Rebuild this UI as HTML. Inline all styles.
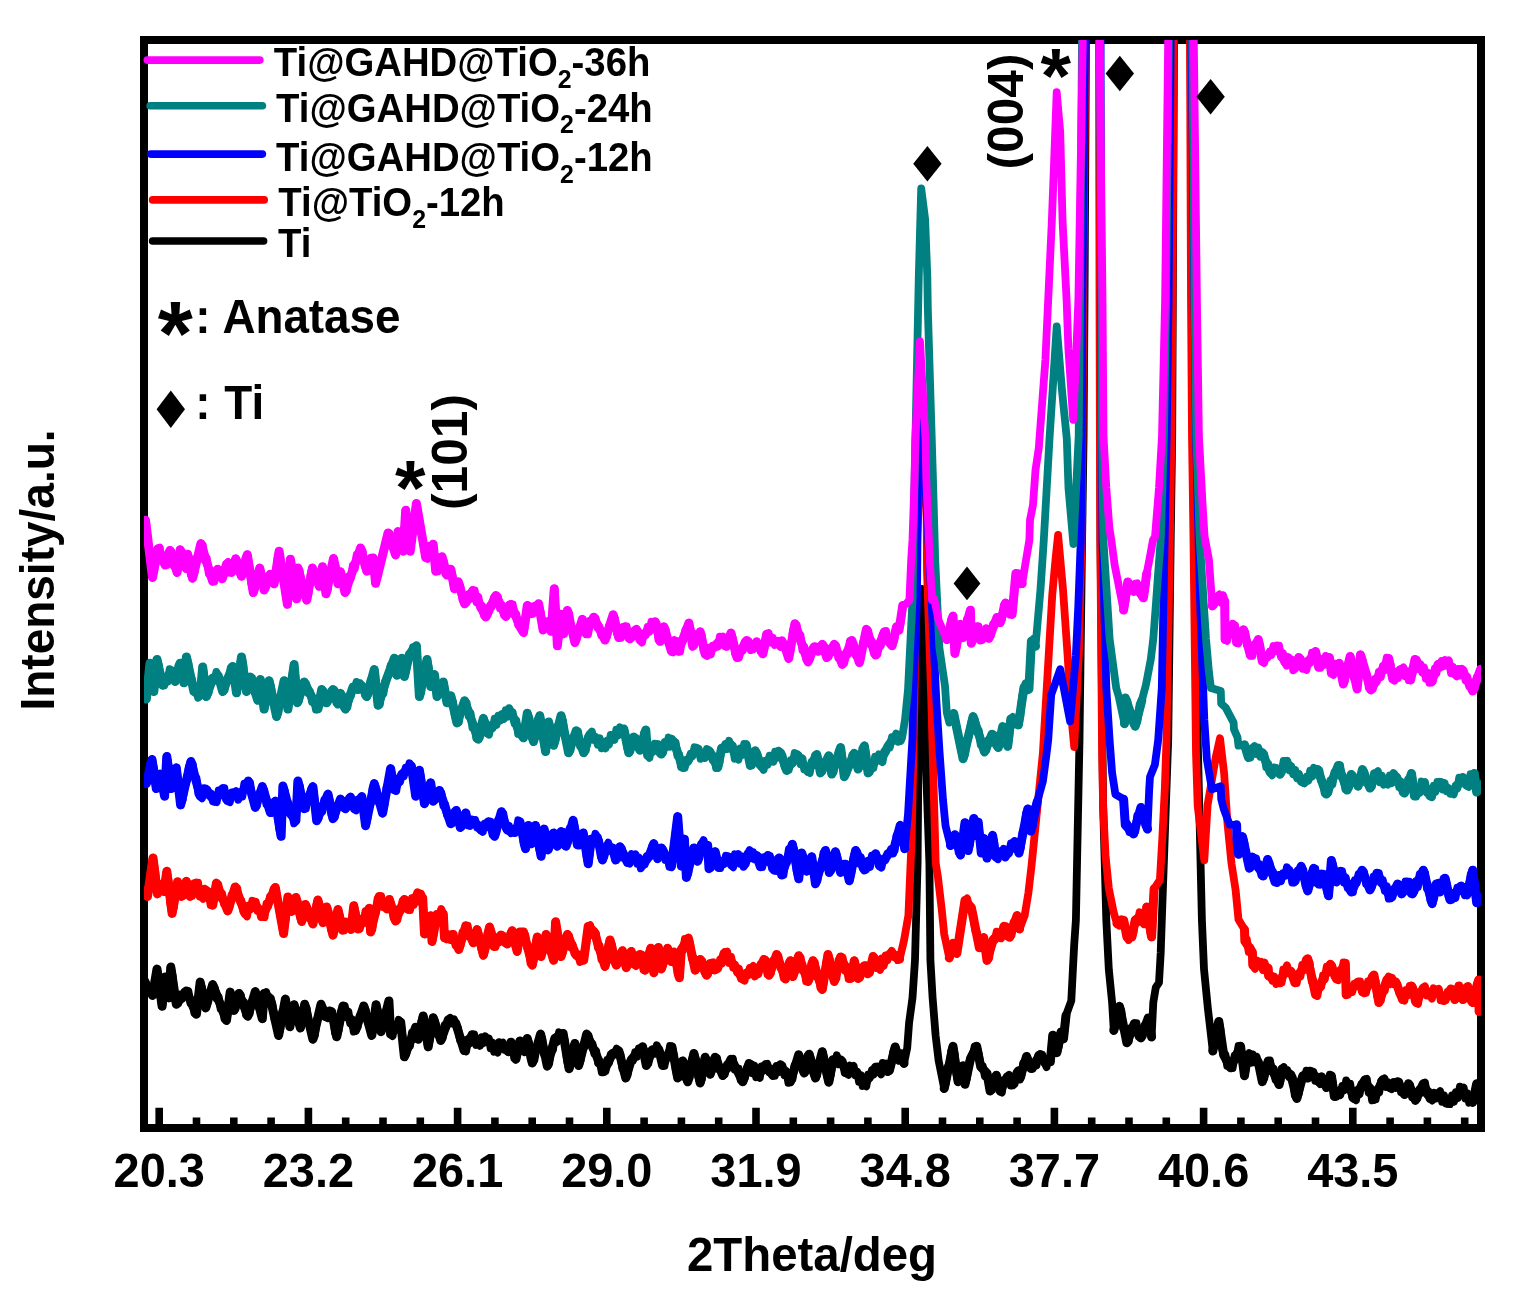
<!DOCTYPE html>
<html lang="en"><head><meta charset="utf-8"><title>XRD patterns</title>
<style>
html,body{margin:0;padding:0;background:#fff;}
body{width:1518px;height:1297px;overflow:hidden;}
svg{display:block;}
text{font-family:"Liberation Sans", "DejaVu Sans", sans-serif;font-weight:bold;fill:#000;}
.tick{font-size:46px;text-anchor:middle;}
.leg{font-size:38.5px;}
.crv{fill:none;stroke-width:7.8;stroke-linejoin:round;stroke-linecap:round;}
</style></head><body>
<svg width="1518" height="1297" viewBox="0 0 1518 1297">
<defs><clipPath id="plot"><rect x="144" y="40" width="1337" height="1088"/></clipPath></defs>
<rect x="0" y="0" width="1518" height="1297" fill="#fff"/>
<rect x="144" y="40" width="1337" height="1088" fill="none" stroke="#000" stroke-width="8"/>
<path d="M159.2 1125 V1107.7 M196.5 1125 V1117.6 M233.8 1125 V1117.6 M271.1 1125 V1117.6 M308.4 1125 V1107.7 M345.7 1125 V1117.6 M383.0 1125 V1117.6 M420.3 1125 V1117.6 M457.6 1125 V1107.7 M494.9 1125 V1117.6 M532.2 1125 V1117.6 M569.5 1125 V1117.6 M606.8 1125 V1107.7 M644.1 1125 V1117.6 M681.4 1125 V1117.6 M718.7 1125 V1117.6 M756.0 1125 V1107.7 M793.3 1125 V1117.6 M830.6 1125 V1117.6 M867.9 1125 V1117.6 M905.2 1125 V1107.7 M942.5 1125 V1117.6 M979.8 1125 V1117.6 M1017.1 1125 V1117.6 M1054.4 1125 V1107.7 M1091.7 1125 V1117.6 M1129.0 1125 V1117.6 M1166.3 1125 V1117.6 M1203.6 1125 V1107.7 M1240.9 1125 V1117.6 M1278.2 1125 V1117.6 M1315.5 1125 V1117.6 M1352.8 1125 V1107.7 M1390.1 1125 V1117.6 M1427.4 1125 V1117.6 M1464.7 1125 V1117.6" stroke="#000" stroke-width="7.6" fill="none"/>
<text transform="translate(159.2 1187.4) scale(1.02 1.04)" font-size="46" text-anchor="middle">20.3</text>
<text transform="translate(308.4 1187.4) scale(1.02 1.04)" font-size="46" text-anchor="middle">23.2</text>
<text transform="translate(457.6 1187.4) scale(1.02 1.04)" font-size="46" text-anchor="middle">26.1</text>
<text transform="translate(606.8 1187.4) scale(1.02 1.04)" font-size="46" text-anchor="middle">29.0</text>
<text transform="translate(756 1187.4) scale(1.02 1.04)" font-size="46" text-anchor="middle">31.9</text>
<text transform="translate(905.2 1187.4) scale(1.02 1.04)" font-size="46" text-anchor="middle">34.8</text>
<text transform="translate(1054.4 1187.4) scale(1.02 1.04)" font-size="46" text-anchor="middle">37.7</text>
<text transform="translate(1203.6 1187.4) scale(1.02 1.04)" font-size="46" text-anchor="middle">40.6</text>
<text transform="translate(1352.8 1187.4) scale(1.02 1.04)" font-size="46" text-anchor="middle">43.5</text>
<text transform="translate(812 1270.7) scale(1.008 1.03)" font-size="47" text-anchor="middle">2Theta/deg</text>
<text transform="translate(54.3 570) rotate(-90) scale(1 1.04)" font-size="46" text-anchor="middle">Intensity/a.u.</text>
<g clip-path="url(#plot)">
<path class="crv" stroke="#000000" style="stroke-width:9" d="M152.5 995.4 L157 969.1 L162.1 1006.2 L165.1 977.1 L168.8 997.9 L170.8 967.1 L176.3 1004.2 L186.4 990.9 L196.4 1014.2 L200.2 982.1 L205.7 1007.9 L212.7 984.6 L226.5 1020.5 L230.2 992.1 L234 1010.4 L239 993.4 L247.8 1016.2 L255.3 991.6 L262.3 1018.7 L264.1 993.4 L270.3 998.4 L278.6 1035.5 L285.4 999.1 L289.9 1026.7 L294.1 1004.7 L300.4 1028 L304.7 1004.2 L312.9 1039.3 L321 1004.2 L325.5 1016.7 L331.7 1011.7 L336.7 1036.8 L343 1005.9 L355.5 1030.5 L363.8 1005.9 L371.8 1035.5 L376.1 1004.7 L381.1 1031.7 L388.9 1000.9 L390.6 1034.2 L400.7 1022.2 L404.4 1056.8 L415.7 1027.2 L418.2 1039.3 L423.2 1015.9 L428.2 1046.8 L433.2 1017.7 L440.8 1040.5 L448.3 1019.7 L455.8 1023.4 L464.1 1050.5 L472.1 1034.7 L478.3 1043 L487.1 1039.2 L495.9 1050.5 L500.9 1043.5 L508.4 1051.8 L510.9 1042.2 L515.9 1059.3 L519.9 1041 L524.8 1051.7 L527.3 1038.4 L532.3 1063 L540.6 1034.1 L547.3 1066.2 L554.8 1038.4 L563.1 1033.4 L569.1 1068.7 L574.9 1043.4 L578.7 1065.5 L586.7 1034.1 L603.7 1071.7 L612.5 1053.4 L618.8 1050.9 L625.8 1078 L631.3 1059.7 L642.6 1046.7 L646.3 1065.5 L652.6 1049.7 L658.9 1049.7 L662.6 1065.5 L671.9 1046.7 L677.7 1078 L682.7 1060.9 L687.7 1081.8 L693.9 1053.4 L700.2 1083 L705.2 1057.2 L710.2 1074.2 L715.2 1057.2 L722.8 1075.5 L731 1059.2 L736.6 1069.2 L742.8 1081.8 L749.1 1063.4 L757.9 1075.5 L765.4 1064.7 L772.9 1075.5 L780.4 1064.7 L790.4 1081.8 L798.7 1054.7 L804.2 1073 L809.2 1054.2 L815.5 1078 L822.3 1051.7 L828.8 1082.3 L833 1059.7 L840.6 1059.7 L846.8 1073 L851.8 1067.2 L864.4 1084.3 L875.6 1067.2 L879.4 1071.7 L884.4 1064.7 L889.4 1070.5 L895.2 1046.9 L899 1060.3 L901.5 1053.8 L904 1063.4 M944.2 1088.6 L953 1046.3 L958.1 1081.7 L963.1 1065.8 L965 1084.2 L970.6 1058.2 L976.7 1046.3 L980.7 1066.6 L987 1073.3 L990.1 1091.1 L996.4 1075.2 L1000.2 1091.1 L1007.1 1077.1 L1012.7 1084.8 L1018.4 1070.8 L1019.6 1079.1 L1026.6 1056.4 L1030.9 1068.5 L1034.7 1063.3 L1040 1054.5 L1044.6 1062.6 L1050.3 1061.8 L1052.8 1035.2 L1056.9 1052.7 L1061.1 1031.9 L1063.5 1038.7 L1066 1015.4 M1113.8 1030.5 L1119.5 1006.3 L1126.9 1042.8 L1134.3 1023.6 L1140.9 1037.9 L1148.3 1017.9 L1151.6 1037 M1212.8 1051 L1218.8 1021.5 L1223.7 1055 L1230.6 1067.8 L1240.5 1046.2 L1244.5 1075.7 L1247.4 1056.1 L1258.3 1062 L1262.3 1081.7 L1268.2 1061 L1279.1 1084.6 L1282 1068.9 L1290.9 1074.8 L1296.8 1098.5 L1302.8 1075.8 L1311.7 1071.9 L1318.6 1081.7 L1323.5 1079.8 L1326.5 1087.6 L1331.4 1075.8 L1334.4 1096.5 L1348.2 1083.7 L1354.2 1098.5 L1365 1079.8 L1373.9 1099.4 L1382.8 1079.8 L1389.7 1087.6 L1397.6 1081.7 L1404.5 1094.5 L1408.5 1083.7 L1415.4 1100.4 L1423.3 1083.7 L1430.2 1098.5 L1438.1 1093.6 L1448 1103.4 L1461.9 1089.7 L1472.7 1102.4 L1476.7 1083.7"/>
<polyline class="crv" stroke="#000000" points="145,980.6 152.5,995.4 154.8,987.3 157,969.1 158.7,978.2 160.4,995.7 162.1,1006.2 163.6,996.5 165.1,977.1 166.9,982.5 168.8,997.9 170.8,967.1 172.6,975.7 174.5,995.9 176.3,1004.2 178.3,1003.6 180.3,994.5 182.4,998.8 184.4,991.6 186.4,990.9 188.4,991.1 190.4,1003.2 192.4,1001 194.4,1013.4 196.4,1014.2 198.3,1000.5 200.2,982.1 202,988.3 203.9,1001.5 205.7,1007.9 207.4,1003.9 209.2,992.8 210.9,995.5 212.7,984.6 214.7,987.7 216.6,998.5 218.6,996.6 220.6,1009 222.6,1008.1 224.5,1019.1 226.5,1020.5 228.3,1009 230.2,992.1 232.1,997.5 234,1010.4 235.7,1008.7 237.3,995.6 239,993.4 240.8,994.9 242.5,1005.2 244.3,1002.1 246,1015 247.8,1016.2 249.7,1013.7 251.6,1002 253.4,1001.3 255.3,991.6 257.1,996.5 258.8,1007.5 260.6,1008.5 262.3,1018.7 264.1,993.4 266.2,992 268.2,998.7 270.3,998.4 272.4,1003.9 274.5,1019.3 276.5,1022.5 278.6,1035.5 280.3,1028.7 282,1012.3 283.7,1012.6 285.4,999.1 287.6,1007.8 289.9,1026.7 292,1018 294.1,1004.7 296.2,1009.6 298.3,1022.2 300.4,1028 302.5,1018.9 304.7,1004.2 306.8,1008.4 308.8,1024.2 310.8,1028.2 312.9,1039.3 314.9,1035.6 316.9,1019.4 319,1017.6 321,1004.2 323.2,1008.5 325.5,1016.7 327.6,1018.2 329.6,1010.4 331.7,1011.7 333.4,1017.1 335,1033 336.7,1036.8 338.8,1029.9 340.9,1011.7 343,1005.9 344.8,1006 346.6,1017.5 348.4,1011.6 350.1,1023.3 351.9,1019 353.7,1031.6 355.5,1030.5 357.6,1027.2 359.6,1016 361.7,1014.5 363.8,1005.9 365.8,1010 367.8,1022.9 369.8,1024.5 371.8,1035.5 374,1024.7 376.1,1004.7 377.8,1010.2 379.4,1027.3 381.1,1031.7 383.1,1028 385,1012.3 386.9,1011.6 388.9,1000.9 390.6,1034.2 392.6,1036 394.6,1024.8 396.7,1029.4 398.7,1019.7 400.7,1022.2 402.5,1036.8 404.4,1056.8 406.3,1054.2 408.2,1042.3 410,1046.3 411.9,1032.6 413.8,1035.5 415.7,1027.2 418.2,1039.3 419.9,1033.6 421.5,1020.5 423.2,1015.9 424.9,1024.2 426.5,1039.3 428.2,1046.8 429.9,1039 431.5,1023.9 433.2,1017.7 435.1,1021.3 437,1034.1 438.9,1030.6 440.8,1040.5 442.7,1038.2 444.6,1025.1 446.4,1026.9 448.3,1019.7 450.2,1017.9 452.1,1023.6 453.9,1019.2 455.8,1023.4 457.9,1027.7 460,1040.1 462,1039.5 464.1,1050.5 466.1,1051.4 468.1,1039.1 470.1,1043.2 472.1,1034.7 474.2,1034.4 476.2,1045 478.3,1043 480.1,1045.8 481.8,1037.3 483.6,1043.1 485.3,1036.2 487.1,1039.2 488.9,1038.6 490.6,1048.3 492.4,1042.4 494.1,1051.7 495.9,1050.5 497.6,1052.6 499.2,1042.2 500.9,1043.5 502.8,1042.6 504.6,1049.9 506.5,1045.8 508.4,1051.8 510.9,1042.2 512.6,1043 514.2,1058.3 515.9,1059.3 517.9,1052.2 519.9,1041 521.5,1041.6 523.2,1050 524.8,1051.7 527.3,1038.4 529,1042.5 530.6,1058.8 532.3,1063 534.4,1060.2 536.5,1046.2 538.5,1043.9 540.6,1034.1 542.3,1038.8 544,1054.5 545.6,1055.7 547.3,1066.2 549.2,1063.9 551,1049.2 552.9,1050.1 554.8,1038.4 556.9,1042.2 559,1032.3 561,1039.6 563.1,1033.4 565.1,1041.9 567.1,1061.1 569.1,1068.7 571,1064.9 573,1047.2 574.9,1043.4 576.8,1052.3 578.7,1065.5 580.7,1060.3 582.7,1046.6 584.7,1046.7 586.7,1034.1 588.6,1035.5 590.5,1044.7 592.4,1043.5 594.3,1053.4 596.1,1050.7 598,1063 599.9,1061.3 601.8,1072.3 603.7,1071.7 605.5,1071.3 607.2,1059.9 609,1063.1 610.7,1054.2 612.5,1053.4 614.6,1054.6 616.7,1048.6 618.8,1050.9 620.5,1054.4 622.3,1068.6 624,1067.8 625.8,1078 627.6,1075.1 629.5,1062.4 631.3,1059.7 633.2,1060.3 635.1,1052.3 637,1057 638.8,1048.5 640.7,1052.4 642.6,1046.7 644.5,1051.1 646.3,1065.5 648.4,1063.6 650.5,1050.9 652.6,1049.7 654.7,1053.8 656.8,1045.2 658.9,1049.7 660.8,1053.3 662.6,1065.5 664.5,1065.8 666.3,1055.8 668.2,1057.3 670,1046 671.9,1046.7 673.8,1055.1 675.8,1069.9 677.7,1078 679.4,1077.2 681,1062.8 682.7,1060.9 684.4,1062.7 686,1079.2 687.7,1081.8 689.8,1077.5 691.8,1060 693.9,1053.4 696,1059.1 698.1,1076.1 700.2,1083 701.9,1079.4 703.5,1063 705.2,1057.2 706.9,1060.4 708.5,1073.1 710.2,1074.2 711.9,1071.3 713.5,1059.2 715.2,1057.2 717.1,1057.9 719,1069.3 720.9,1068 722.8,1075.5 724.8,1074.3 726.9,1064.6 729,1067.7 731,1059.2 732.9,1058.7 734.7,1069.5 736.6,1069.2 738.7,1068.8 740.7,1080.3 742.8,1081.8 744.9,1078 747,1067.6 749.1,1063.4 750.9,1063.9 752.6,1073.4 754.4,1065.5 756.1,1077.2 757.9,1075.5 759.8,1078 761.6,1066.5 763.5,1070.7 765.4,1064.7 767.3,1063.8 769.1,1072.2 771,1068.4 772.9,1075.5 774.8,1075.7 776.6,1065.9 778.5,1072.3 780.4,1064.7 782.4,1065.6 784.4,1075.1 786.4,1070.9 788.4,1082.9 790.4,1081.8 792.5,1079.2 794.5,1065.3 796.6,1065.2 798.7,1054.7 800.5,1058.4 802.4,1070.4 804.2,1073 805.9,1071.7 807.5,1055.4 809.2,1054.2 811.3,1059.8 813.4,1073.7 815.5,1078 817.2,1075.3 818.9,1062.5 820.6,1063.3 822.3,1051.7 824.5,1059.3 826.6,1074.5 828.8,1082.3 830.9,1074.5 833,1059.7 834.9,1063.2 836.8,1055.3 838.7,1064.4 840.6,1059.7 842.7,1061.2 844.7,1072.8 846.8,1073 848.5,1074.8 850.1,1065.5 851.8,1067.2 853.6,1065.8 855.4,1075.4 857.2,1071.5 859,1081.9 860.8,1075 862.6,1086 864.4,1084.3 866.3,1086.3 868.1,1074.7 870,1077.8 871.9,1070.3 873.7,1074.6 875.6,1067.2 877.5,1066.5 879.4,1071.7 881.1,1074.4 882.7,1062.9 884.4,1064.7 886.1,1063.5 887.7,1072.1 889.4,1070.5 891.3,1064.6 893.3,1051.4 895.2,1046.9 897.1,1051.5 899,1060.3 901.5,1053.8 904,1063.4 907.2,1048 909.1,1022.8 912.5,997.7 915,960 917.6,863 918.3,775 921.6,589 926.3,775 929.4,863 930.4,960 932.6,997.7 935.6,1035.4 938.6,1060.5 944.2,1088.6 946,1083 947.7,1066.7 949.5,1065.5 951.2,1050.7 953,1046.3 954.7,1054.1 956.4,1074.1 958.1,1081.7 959.8,1080.9 961.4,1066.4 963.1,1065.8 965,1084.2 966.9,1078.6 968.7,1063.8 970.6,1058.2 972.6,1056.6 974.7,1046.3 976.7,1046.3 978.7,1053.9 980.7,1066.6 982.8,1066.3 984.9,1076.2 987,1073.3 988.5,1078.3 990.1,1091.1 992.2,1090.1 994.3,1077 996.4,1075.2 998.3,1080.9 1000.2,1091.1 1001.9,1092.5 1003.7,1080.1 1005.4,1082.6 1007.1,1077.1 1009,1074.8 1010.8,1085.6 1012.7,1084.8 1014.6,1084 1016.5,1072.4 1018.4,1070.8 1019.6,1079.1 1021.4,1076.6 1023.1,1063.3 1024.8,1064.7 1026.6,1056.4 1028.8,1060.6 1030.9,1068.5 1032.8,1068.8 1034.7,1063.3 1036.5,1065.5 1038.2,1055.2 1040,1054.5 1042.3,1054.7 1044.6,1062.6 1046.5,1067.1 1048.4,1058.4 1050.3,1061.8 1052.8,1035.2 1054.8,1040.1 1056.9,1052.7 1059,1045.9 1061.1,1031.9 1063.5,1038.7 1066,1015.4 1071.3,1000.7 1072.9,969.4 1074.2,944.7 1075.9,920 1079.5,740 1082.1,540 1083.6,436 1084.5,300 1086,40 1086.5,-60 1099,-60 1099.5,40 1100.5,540 1103,800 1106.3,920 1108.8,969.4 1112.1,1002.3 1113.8,1030.5 1115.7,1025.3 1117.6,1011.3 1119.5,1006.3 1121.3,1010.5 1123.2,1028.8 1125.1,1029.7 1126.9,1042.8 1128.8,1041.4 1130.6,1028.3 1132.5,1033.2 1134.3,1023.6 1136.5,1023.3 1138.7,1036.8 1140.9,1037.9 1142.8,1036.1 1144.6,1025.4 1146.5,1025.6 1148.3,1017.9 1149.9,1022.7 1151.6,1037 1153.3,1002.3 1155.8,987.4 1159,982.6 1160.7,952.9 1161.8,920 1168.2,740 1170.7,540 1172.2,436 1172.8,300 1174,40 1174.5,-60 1190,-60 1190.5,40 1194,540 1198,753 1201.9,920 1204,969.1 1207.9,1008.6 1212.8,1051 1214.8,1043.6 1216.8,1026.3 1218.8,1021.5 1220.4,1028.9 1222.1,1048.5 1223.7,1055 1225.4,1054.6 1227.2,1065.8 1228.9,1060.8 1230.6,1067.8 1232.6,1068.1 1234.6,1055.6 1236.5,1059.1 1238.5,1046 1240.5,1046.2 1242.5,1057.9 1244.5,1075.7 1246,1068.1 1247.4,1056.1 1249.2,1053 1251,1062.8 1252.8,1054.4 1254.7,1062.3 1256.5,1056.5 1258.3,1062 1260.3,1068.4 1262.3,1081.7 1264.3,1078.5 1266.2,1065.6 1268.2,1061 1270,1060.5 1271.8,1071.5 1273.7,1068.6 1275.5,1079.7 1277.3,1075.6 1279.1,1084.6 1280.5,1081 1282,1068.9 1283.8,1067.1 1285.6,1074.9 1287.3,1070 1289.1,1077 1290.9,1074.8 1292.9,1077.7 1294.8,1095.6 1296.8,1098.5 1298.8,1093.8 1300.8,1080.1 1302.8,1075.8 1304.6,1078.6 1306.4,1070.6 1308.1,1078.6 1309.9,1070.6 1311.7,1071.9 1313.4,1071.9 1315.2,1080.7 1316.9,1076.3 1318.6,1081.7 1320.2,1084.2 1321.9,1076.3 1323.5,1079.8 1325,1081.2 1326.5,1087.6 1328.1,1085.6 1329.8,1074.6 1331.4,1075.8 1332.9,1083.3 1334.4,1096.5 1336.4,1096.8 1338.3,1090.8 1340.3,1095.1 1342.3,1085.9 1344.3,1090.3 1346.2,1080.4 1348.2,1083.7 1350.2,1083.7 1352.2,1097.8 1354.2,1098.5 1356,1100.3 1357.8,1089.9 1359.6,1094.3 1361.4,1084.2 1363.2,1086.8 1365,1079.8 1366.8,1078.8 1368.6,1092.5 1370.3,1087.4 1372.1,1100.4 1373.9,1099.4 1375.7,1099.4 1377.5,1089.2 1379.2,1092.6 1381,1081.2 1382.8,1079.8 1384.5,1078.4 1386.2,1087 1388,1082.1 1389.7,1087.6 1391.7,1089.1 1393.7,1081.9 1395.6,1088 1397.6,1081.7 1399.3,1081.8 1401,1092.2 1402.8,1087.8 1404.5,1094.5 1406.5,1091.8 1408.5,1083.7 1410.2,1085.1 1412,1097.1 1413.7,1091.3 1415.4,1100.4 1417.4,1098.6 1419.3,1089.4 1421.3,1092.9 1423.3,1083.7 1425,1082.5 1426.8,1094.1 1428.5,1091.1 1430.2,1098.5 1432.2,1100.5 1434.2,1092.7 1436.1,1098.5 1438.1,1093.6 1440.1,1091.1 1442.1,1101.8 1444,1095.2 1446,1103.5 1448,1103.4 1450,1104.1 1452,1095.5 1454,1101.8 1455.9,1092.1 1457.9,1098.1 1459.9,1086.6 1461.9,1089.7 1463.7,1087.7 1465.5,1098.6 1467.3,1093.1 1469.1,1102.7 1470.9,1096.7 1472.7,1102.4 1474.7,1097.6 1476.7,1083.7 1484.6,1095.5"/>
<path class="crv" stroke="#ff0000" style="stroke-width:9" d="M147.5 896.4 L153 858 L157.5 893.9 L160.1 884.4 L163.8 891.4 L166.8 871.3 L172.1 913.4 L177.6 881.8 L181.4 896.4 L186.4 881.3 L190.1 896.4 L196.4 883.1 L201.4 896.4 L206.4 890.6 L212.7 905.2 L216.4 883.1 L227.7 910.9 L235.2 886.9 L245.3 913.9 L254 901.9 L262.8 916.5 L275.3 887.4 L283.6 933.5 L287.9 896.9 L291.6 911.4 L295.9 897.4 L301.7 921.5 L305.4 904.4 L312.9 924 L317.9 899.9 L323 922.7 L326.7 906.9 L333 935.2 L338 909.4 L342.5 930.2 L348 924.5 L351 929.5 L353.8 905.7 L358 929 L369.3 908.2 L370.6 932 L379.3 896.4 L386.9 908.9 L389.4 899.4 L395.6 921 L404.4 899.4 L408.2 909.4 L415.7 896.9 L422.7 898.1 L424.5 934 L430.7 915.7 L432 941.5 L437 914.4 L443.3 913.9 L444.5 937.8 L452 934.5 L458.8 949.5 L465.8 925.7 L473.3 942.8 L477.1 929.5 L483.4 955.3 L489.6 927 L493.9 946.5 L500.9 935 L507.2 944 L512.2 930.7 L517.2 951.5 L519.9 932 L523.5 931.9 L532.3 965.2 L537.3 936.9 L541.1 956.5 L546.1 934.4 L553.6 960.2 L555.6 921.8 L561.1 956.5 L567.4 934.4 L576.2 955.2 L583.7 960.2 L588.2 926.4 L594.2 931.9 L605 966.5 L610 939.9 L616.3 965.2 L622.5 950.7 L626.3 967.7 L631.3 951.4 L633.8 964 L640.1 954.4 L645.1 970.2 L650.8 948.2 L653.8 972.7 L658.4 947.4 L661.4 969 L667.6 948.2 L671.4 961.5 L673.9 951.9 L679.4 977.8 L681.4 949.4 L688.4 938.1 L695.2 970.2 L700.2 959.4 L706.5 975.2 L711.5 963.2 L716.5 969 L725.3 952.4 L742.8 979 L751.6 968.2 L756.6 974 L764.1 959.4 L769.1 975.2 L776.7 954.4 L785.4 979 L790.4 960.7 L792.9 976.5 L798.7 955.7 L808 981.5 L813 960.7 L822.3 989.5 L828 954.4 L834.3 981.5 L840.6 956.9 L850.6 978.5 L854.3 960.7 L858.1 978.5 L864.4 965.7 L869.4 972.7 L873.1 956.4 L878.2 967.7 L889.4 954.4 L894 956.5 L899.6 959.1 M949.3 957.9 L953 943.3 L956.8 953.5 L965 900.5 L971.3 907.5 L979.4 947.8 L983.8 937.6 L987 960.4 L993.3 939.5 L998.3 934.5 L1000.8 937.8 L1003.9 926.3 L1009.6 937.2 L1017.1 915.6 L1019.6 929 M1117 923.7 L1123.6 920.2 L1126.9 936.9 L1131.9 936.9 L1135.2 920.2 L1141.8 915.3 L1144.2 923.7 L1146.7 907 L1151.6 936.9 L1154.1 888.9 M1244.5 929.6 L1244.9 941.3 L1252.4 952.3 L1252.8 965.1 L1259.3 963.2 L1268.2 968.1 L1268.6 975.9 L1280 982.8 L1285 970.1 L1290.9 971.1 L1294.9 982.8 L1307.7 958.8 L1315.6 994.7 L1330.4 964.2 L1336.4 978.9 L1345.3 963.2 L1346.2 994.7 L1358.1 981.9 L1364 992.7 L1373.9 975 L1378.9 1002.6 L1386.8 980 L1395.7 981.9 L1402.6 999.6 L1411.5 985.9 L1416.4 1002.6 L1423.3 987.9 L1430.2 995.7 L1437.2 990.8 L1444.1 1000.6 L1451 988.9 L1454.9 999.6 L1458.9 985.9 L1462.8 999.6 L1467.8 986.5 L1472.7 1002.6 L1478.7 980 L1479.1 1011.5"/>
<polyline class="crv" stroke="#ff0000" points="145,890.4 147.5,896.4 149.3,888.5 151.2,867.5 153,858 155.2,871.3 157.5,893.9 160.1,884.4 161.9,884.5 163.8,891.4 165.3,883.7 166.8,871.3 168.6,881.1 170.3,903.6 172.1,913.4 173.9,907.3 175.8,889.8 177.6,881.8 179.5,886.9 181.4,896.4 183.1,896 184.7,883 186.4,881.3 188.2,885 190.1,896.4 192.2,896 194.3,883.1 196.4,883.1 198.1,882.8 199.7,896.5 201.4,896.4 203.1,898.8 204.7,888.6 206.4,890.6 208.5,891.3 210.6,905.2 212.7,905.2 214.6,896.1 216.4,883.1 218.3,884.1 220.2,897.5 222.1,893.4 223.9,903.6 225.8,901.3 227.7,910.9 229.6,907.2 231.4,895.3 233.3,895.9 235.2,886.9 237.2,887.9 239.2,900.2 241.3,900.3 243.3,911.6 245.3,913.9 247,916.4 248.8,905.5 250.5,909.5 252.3,900.8 254,901.9 255.8,902 257.5,910.9 259.3,908.8 261,917 262.8,916.5 264.6,917.3 266.4,903.7 268.2,906.3 269.9,896.6 271.7,899.7 273.5,889 275.3,887.4 283.6,933.5 285.8,918.5 287.9,896.9 289.8,901.9 291.6,911.4 293.8,909.2 295.9,897.4 297.8,901.4 299.8,916.5 301.7,921.5 303.5,915.4 305.4,904.4 307.3,907.5 309.1,918.1 311,915.4 312.9,924 314.6,918.1 316.2,905.9 317.9,899.9 319.6,904.1 321.3,919.5 323,922.7 324.9,916.6 326.7,906.9 328.8,911.8 330.9,929.6 333,935.2 334.7,928.5 336.3,914.4 338,909.4 340.2,917.1 342.5,930.2 344.3,930.4 346.2,921.5 348,924.5 349.5,923 351,929.5 353.8,905.7 355.9,913.5 358,929 359.9,928.9 361.8,918.8 363.6,923.4 365.5,911.1 367.4,915.7 369.3,908.2 370.6,932 372.3,929.7 374.1,915.3 375.8,913.6 377.6,898.5 379.3,896.4 381.2,896.1 383.1,907 385,902.6 386.9,908.9 389.4,899.4 391.5,904.4 393.5,918 395.6,921 397.4,920.1 399.1,908.8 400.9,910.8 402.6,900.7 404.4,899.4 406.3,900.1 408.2,909.4 410.1,909.9 411.9,898.2 413.8,905 415.7,896.9 417.4,892.2 419.2,901.5 420.9,893.5 422.7,898.1 424.5,934 426.6,930.3 428.6,917.5 430.7,915.7 432,941.5 433.7,934.7 435.3,921.3 437,914.4 439.1,916.4 441.2,909 443.3,913.9 444.5,937.8 446.4,939.3 448.2,934.1 450.1,940.1 452,934.5 453.7,933.9 455.4,945.1 457.1,942.2 458.8,949.5 460.6,945.5 462.3,932.5 464.1,936.7 465.8,925.7 467.7,925.7 469.6,936.9 471.4,934.5 473.3,942.8 475.2,940.2 477.1,929.5 479.2,935.3 481.3,948.8 483.4,955.3 485.5,949.3 487.5,933.2 489.6,927 491.8,932.2 493.9,946.5 495.6,946.9 497.4,937.1 499.1,942.5 500.9,935 503,935.4 505.1,943.1 507.2,944 508.9,941.8 510.5,932.7 512.2,930.7 513.9,934.7 515.5,946.4 517.2,951.5 519.9,932 521.7,934.8 523.5,931.9 525.3,934.9 527,947.5 528.8,949.3 530.5,963.6 532.3,965.2 534,959.3 535.6,944.2 537.3,936.9 539.2,941.7 541.1,956.5 542.8,951.9 544.4,938.4 546.1,934.4 548,938.3 549.9,951.1 551.7,949.3 553.6,960.2 555.6,921.8 557.4,930.6 559.3,947.8 561.1,956.5 563.2,951.7 565.3,937.8 567.4,934.4 569.2,936 570.9,947.4 572.7,944.7 574.4,953.6 576.2,955.2 578.1,954.4 580,962 581.8,954.2 583.7,960.2 586,946 588.2,926.4 590.2,925.2 592.2,935 594.2,931.9 596,933.3 597.8,947.5 599.6,945.8 601.4,959.4 603.2,955.8 605,966.5 606.7,962 608.3,944.7 610,939.9 612.1,945 614.2,961.9 616.3,965.2 618.4,963.7 620.4,952.9 622.5,950.7 624.4,956.8 626.3,967.7 628,964.6 629.6,954.3 631.3,951.4 633.8,964 635.9,966 638,954.9 640.1,954.4 641.8,954.6 643.4,969.9 645.1,970.2 647,967.2 648.9,953 650.8,948.2 652.3,958.6 653.8,972.7 656.1,963.5 658.4,947.4 659.9,956.2 661.4,969 663.5,964 665.5,953 667.6,948.2 669.5,952.2 671.4,961.5 673.9,951.9 675.7,956.2 677.6,974.1 679.4,977.8 681.4,949.4 683.1,950.4 684.9,938.9 686.6,944.1 688.4,938.1 690.1,943.2 691.8,958.6 693.5,957.6 695.2,970.2 696.9,969.1 698.5,959.8 700.2,959.4 702.3,960.8 704.4,972.2 706.5,975.2 708.2,974.3 709.8,963.1 711.5,963.2 713.2,962.4 714.8,970.5 716.5,969 718.3,968.5 720,959.7 721.8,963.8 723.5,952.9 725.3,952.4 727.2,951.6 729.2,963 731.1,956.8 733.1,967.6 735,964.5 737,972.4 738.9,968.4 740.9,978.7 742.8,979 744.6,980.7 746.3,972.6 748.1,975.4 749.8,967.9 751.6,968.2 753.3,966 754.9,976.5 756.6,974 758.5,974 760.4,964.5 762.2,965.6 764.1,959.4 765.8,960 767.4,974.5 769.1,975.2 771,973.1 772.9,960.7 774.8,961.5 776.7,954.4 778.4,955.6 780.2,967.4 781.9,966.3 783.7,978.1 785.4,979 787.1,976.8 788.7,962.8 790.4,960.7 792.9,976.5 794.8,972.7 796.8,960.3 798.7,955.7 800.6,957.4 802.4,970.5 804.3,968.9 806.1,981.4 808,981.5 809.7,979.3 811.3,963.3 813,960.7 814.9,962.4 816.7,976.8 818.6,975.6 820.4,988 822.3,989.5 824.2,979.9 826.1,962.9 828,954.4 830.1,960.4 832.2,975.5 834.3,981.5 836.4,978.5 838.5,960.1 840.6,956.9 842.6,957.3 844.6,970.5 846.6,966.5 848.6,979 850.6,978.5 852.5,972.2 854.3,960.7 856.2,966.5 858.1,978.5 860.2,977.8 862.3,967 864.4,965.7 866.1,965.2 867.7,974.3 869.4,972.7 871.2,967.7 873.1,956.4 874.8,957.9 876.5,968 878.2,967.7 880.1,969.8 881.9,958.5 883.8,965.9 885.7,955.5 887.5,960.3 889.4,954.4 891.7,950.8 894,956.5 895.9,954.9 897.7,960.1 899.6,959.1 904,940.5 908.4,915.4 911.6,840 914.5,700 916,600 917.3,536 920,480 923,445 926.5,490 927,570 931.3,700 935.7,863 938,877.7 941.7,909.1 944.2,934.2 949.3,957.9 951.1,953.9 953,943.3 954.9,946.1 956.8,953.5 965,900.5 967.1,898.4 969.2,907 971.3,907.5 973.3,915.4 975.3,930.8 977.4,933.6 979.4,947.8 981.6,945.5 983.8,937.6 985.4,945.4 987,960.4 989.1,958.5 991.2,943.2 993.3,939.5 995,939.8 996.6,931.7 998.3,934.5 1000.8,937.8 1002.3,934.4 1003.9,926.3 1005.8,926.1 1007.7,936.7 1009.6,937.2 1011.5,935.6 1013.4,922.4 1015.2,923.6 1017.1,915.6 1019.6,929 1024.7,915.4 1028.4,892.8 1031.6,865.1 1034.1,840 1042.9,753 1048.7,655.3 1052.3,594.3 1055.8,556.5 1058.1,535 1063,589.4 1067.6,655.3 1071.8,721.2 1074.2,747 1079,650 1081.5,540 1082.5,436 1083.2,300 1085.5,40 1086,-60 1098.5,-60 1099.1,40 1099.5,300 1099.9,436 1100.3,540 1102.1,753 1103.1,805.9 1105.5,855.3 1108.8,888.2 1113.8,912.9 1117,923.7 1119.2,925.6 1121.4,919.2 1123.6,920.2 1125.2,925.8 1126.9,936.9 1128.6,940 1130.2,933.1 1131.9,936.9 1133.6,931.9 1135.2,920.2 1137.4,922.6 1139.6,912.3 1141.8,915.3 1144.2,923.7 1146.7,907 1148.3,914 1150,931.1 1151.6,936.9 1154.1,888.9 1159.9,880 1162.3,838.8 1164.8,789.4 1166.5,740 1169.9,540 1171.4,436 1172.5,300 1173.7,40 1174.3,-60 1189.5,-60 1190,40 1191,300 1192,436 1193.5,540 1196,753 1197.7,806 1204.3,860.3 1207.6,805 1215.9,756.5 1220,738.3 1224.1,773 1227.4,822.3 1231.5,863.5 1235.6,890 1238.5,919.6 1244.5,929.6 1244.9,941.3 1246.8,939.1 1248.7,951.9 1250.5,947.6 1252.4,952.3 1252.8,965.1 1255,968.9 1257.1,960.5 1259.3,963.2 1261.1,961.9 1262.9,970 1264.6,962.5 1266.4,971.3 1268.2,968.1 1268.6,975.9 1270.5,974.6 1272.4,980.8 1274.3,976.6 1276.2,983.9 1278.1,979.6 1280,982.8 1281.7,982.6 1283.3,969.3 1285,970.1 1287,965.3 1288.9,973.4 1290.9,971.1 1292.9,975.1 1294.9,982.8 1296.7,983.1 1298.6,973.2 1300.4,976.6 1302.2,964.9 1304,970.4 1305.9,959.5 1307.7,958.8 1309.7,963 1311.7,981.3 1313.6,980.7 1315.6,994.7 1317.4,996 1319.3,984.1 1321.2,986.9 1323,975.5 1324.8,979.5 1326.7,966.7 1328.6,972.3 1330.4,964.2 1332.4,966 1334.4,976.3 1336.4,978.9 1338.2,980.2 1340,970.5 1341.7,973.7 1343.5,962.5 1345.3,963.2 1346.2,994.7 1348.2,994.5 1350.2,987.2 1352.2,992.2 1354.1,983.9 1356.1,986.1 1358.1,981.9 1360.1,981.5 1362,992.4 1364,992.7 1366,992.7 1368,981.4 1369.9,984.6 1371.9,976.4 1373.9,975 1375.6,981 1377.2,995.5 1378.9,1002.6 1380.9,1000.6 1382.8,988.9 1384.8,990.8 1386.8,980 1388.6,976.5 1390.4,984.2 1392.1,977.7 1393.9,984.3 1395.7,981.9 1397.4,984.1 1399.2,992.9 1400.9,992.5 1402.6,999.6 1404.4,1000.7 1406.2,989.9 1407.9,995.4 1409.7,985.8 1411.5,985.9 1413.1,987.2 1414.8,1001.4 1416.4,1002.6 1418.1,1003.8 1419.8,991.6 1421.6,993.8 1423.3,987.9 1425,986.3 1426.8,995.5 1428.5,991.1 1430.2,995.7 1432,998.6 1433.7,988.3 1435.5,993.9 1437.2,990.8 1438.9,989 1440.7,1000.3 1442.4,995.3 1444.1,1000.6 1445.8,1000.1 1447.5,992 1449.3,994 1451,988.9 1453,990.7 1454.9,999.6 1456.9,997.1 1458.9,985.9 1460.8,987.9 1462.8,999.6 1464.5,999.3 1466.1,987.3 1467.8,986.5 1469.4,989.2 1471.1,1001.6 1472.7,1002.6 1474.7,998 1476.7,984.1 1478.7,980 1479.1,1011.5 1484.6,996.7"/>
<path class="crv" stroke="#0000ff" style="stroke-width:9" d="M146.3 783.6 L152 759.5 L156.3 788.6 L160.1 774.1 L164.6 796.2 L166.8 756.5 L171.3 788.6 L176.3 767.8 L180.6 804.9 L190.9 761.5 L200.2 796.2 L205.7 789.1 L214.7 801.2 L222.7 788.6 L227.7 800.7 L234 792.9 L240.3 796.2 L248.3 781.1 L255.3 807.4 L262.3 786.6 L270.3 812.4 L275.3 801.1 L281.1 836.3 L282.9 786.1 L290.4 813.7 L295.9 820.7 L297.9 781.1 L304.2 808.7 L312.9 786.6 L316.7 820.7 L328 794.1 L333 818.7 L340.5 799.1 L345.5 808.7 L350.5 797.1 L354.3 808.7 L361.8 796.6 L365.6 825.7 L374.3 783.6 L382.6 813.2 L390.6 768.6 L394.4 789.9 L401.9 774.1 L411.4 766.1 L415.7 796.2 L419.4 770.3 L424.5 803.7 L430.7 782.8 L433.2 801.2 L439.5 790.4 L450.8 823.7 L456.3 810.4 L460.3 827.5 L465.8 812.9 L468.3 825 L473.3 820.4 L480.9 830 L488.4 821.7 L494.6 836.3 L501.4 811.7 L507.2 830 L514.7 832.5 L519.9 821.7 L525.5 848.7 L528.5 825.4 L531.5 843.7 L535.5 825.4 L541.1 856.2 L544.1 829.1 L548.1 849.9 L553.6 832.9 L557.4 846.2 L561.1 831.6 L566.1 846.2 L573.1 820.3 L577.4 844.9 L583.2 832.9 L588.2 863.7 L591.2 839.1 L597.5 837.9 L602.5 860 L606.2 846.7 L612.5 847.9 L615.7 860 L620 846.7 L627.5 862.5 L633.8 856.2 L642.6 865 L648.8 856.7 L653.8 843.6 L657.6 858.7 L661.4 847.9 L671.4 866.7 L677.7 816.6 L681.4 866.2 L684.4 839.1 L686.4 877.5 L693.9 847.9 L697.7 861.2 L701.5 844.2 L707.7 845.4 L709 868.7 L715.2 851.7 L718.5 867.5 L727.8 856.7 L731.5 865 L736.6 856.7 L745.3 863.7 L747.8 854.2 L756.6 855.4 L760.4 866.7 L767.9 855.4 L774.1 870 L779.2 857.9 L781.7 875 L792.4 844.2 L798.7 878.8 L801.7 852.9 L806.7 871.2 L811.7 856.7 L815.5 883.8 L825.5 850.4 L829.3 872.5 L835.5 851.7 L840.6 872.5 L845.6 864.2 L849.3 880.8 L855.6 850.4 L864.4 870 L875.6 853.7 L879.4 865.7 L889.4 852.9 L892.7 853.1 L900.3 825.3 L904.7 848.7 M950.5 845.5 L954.9 834.7 L960.6 855 L965 822.7 L968.1 850.6 L973.8 818.4 L975.7 835.5 L978.2 822.1 L981.3 853.1 L983.8 838.5 L987 858.1 L992.6 835.3 L995.8 856.8 L1002 852.3 L1007.1 854.3 L1014.6 841.6 L1019 853.1 L1027.8 808.9 L1030.9 831.1 L1037.2 801.6 M1123.6 799.2 L1125.3 824.9 L1133.5 834 L1140.9 807.4 L1147.5 829.1 M1236.6 824.8 L1237 840.5 L1238.5 854.3 L1242.5 836.6 L1249.4 868.2 L1254.3 858.4 L1263.2 876.1 L1267.6 859.4 L1275.1 882 L1288.9 870.2 L1293.9 882 L1301.2 866.3 L1307.7 890.9 L1313.6 868.3 L1318.6 884 L1323.5 874.2 L1328.5 895.8 L1331.4 860.4 L1336.4 882 L1340.3 871.2 L1351.2 891.9 L1362.1 870.2 L1370 889.9 L1376.9 873.2 L1390.7 897.8 L1397.6 884.1 L1401.6 893.9 L1407.5 882.1 L1412.5 893.9 L1423.3 870.2 L1432.2 903.7 L1436.2 884.1 L1440.1 891.9 L1445.1 878.2 L1450 899.8 L1460.9 886.1 L1466.8 894.9 L1472.7 870.2 L1476.7 902.8"/>
<polyline class="crv" stroke="#0000ff" points="145,780.1 146.3,783.6 148.2,779.2 150.1,763.2 152,759.5 154.2,769.6 156.3,788.6 158.2,786.4 160.1,774.1 162.3,781.7 164.6,796.2 166.8,756.5 169.1,769 171.3,788.6 173,785.3 174.6,770 176.3,767.8 178.4,781.8 180.6,804.9 182.7,800 184.7,785.7 186.8,780.8 188.8,766.9 190.9,761.5 192.8,764 194.6,777.8 196.5,778.1 198.3,793.6 200.2,796.2 202,798.3 203.9,788.2 205.7,789.1 207.5,789.7 209.3,795.8 211.1,793.6 212.9,801.3 214.7,801.2 216.7,802.1 218.7,790.5 220.7,795.3 222.7,788.6 224.4,788.3 226,799.4 227.7,800.7 229.8,802.2 231.9,792.4 234,792.9 236.1,791.1 238.2,799.7 240.3,796.2 242.3,796.6 244.3,783.6 246.3,788.5 248.3,781.1 250.1,782.6 251.8,796.3 253.6,798.4 255.3,807.4 257.1,805.5 258.8,793.9 260.6,793.7 262.3,786.6 264.3,790.2 266.3,804.2 268.3,801.9 270.3,812.4 272,812.9 273.6,802.4 275.3,801.1 277.2,808 279.2,828.7 281.1,836.3 282.9,786.1 284.8,790.8 286.6,804.9 288.5,803.2 290.4,813.7 292.2,814.1 294.1,823.4 295.9,820.7 297.9,781.1 300,786.3 302.1,804.3 304.2,808.7 305.9,808.7 307.7,797.5 309.4,799.5 311.2,788.9 312.9,786.6 314.8,801.3 316.7,820.7 318.6,818.6 320.5,808.5 322.4,811.6 324.2,799.9 326.1,802.7 328,794.1 329.7,800.3 331.3,814.5 333,818.7 334.9,817.3 336.8,806.9 338.6,806.3 340.5,799.1 342.2,800.2 343.8,808.5 345.5,808.7 347.2,807.2 348.8,798.1 350.5,797.1 352.4,800.5 354.3,808.7 356.2,810.4 358.1,799.4 359.9,802.4 361.8,796.6 363.7,808.7 365.6,825.7 367.3,819.6 369.1,805 370.8,803.5 372.6,787.9 374.3,783.6 376.4,789.1 378.5,801.8 380.5,801.2 382.6,813.2 384.6,804.4 386.6,786.6 388.6,784.9 390.6,768.6 392.5,776.9 394.4,789.9 396.3,791 398.1,779.2 400,782 401.9,774.1 403.8,776.4 405.7,767.7 407.6,771.7 409.5,763.2 411.4,766.1 413.5,777 415.7,796.2 417.5,786.6 419.4,770.3 421.1,777.7 422.8,795.5 424.5,803.7 426.6,798.9 428.6,785.5 430.7,782.8 433.2,801.2 435.3,800.1 437.4,791.5 439.5,790.4 441.4,792.7 443.3,805.8 445.1,804.3 447,815 448.9,815.1 450.8,823.7 452.6,823.4 454.5,811.2 456.3,810.4 458.3,816.8 460.3,827.5 462.1,826.7 464,814.8 465.8,812.9 468.3,825 470,825.9 471.6,819.4 473.3,820.4 475.2,819.9 477.1,827.5 479,825.2 480.9,830 482.8,831.8 484.6,823.6 486.5,827 488.4,821.7 490.5,821.6 492.5,835 494.6,836.3 496.3,832.7 498,819.9 499.7,819.8 501.4,811.7 503.3,813.2 505.3,827.3 507.2,830 509.1,825.9 511,833.2 512.8,828.8 514.7,832.5 516.4,831.1 518.2,820.3 519.9,821.7 521.8,827.4 523.6,843.6 525.5,848.7 527,839.2 528.5,825.4 530,832.3 531.5,843.7 533.5,838.8 535.5,825.4 537.4,832.1 539.2,849 541.1,856.2 542.6,846.1 544.1,829.1 546.1,834.3 548.1,849.9 549.9,846.6 551.8,833.9 553.6,832.9 555.5,835.2 557.4,846.2 559.2,843.2 561.1,831.6 562.8,831.6 564.4,845.7 566.1,846.2 567.9,842.8 569.6,828.3 571.4,829.8 573.1,820.3 575.2,828.3 577.4,844.9 579.3,845.6 581.3,834.9 583.2,832.9 584.9,838.8 586.5,856.1 588.2,863.7 589.7,853.8 591.2,839.1 593.3,843.7 595.4,833.8 597.5,837.9 599.2,840.9 600.8,856.8 602.5,860 604.4,856.4 606.2,846.7 608.3,842.7 610.4,850.9 612.5,847.9 614.1,848.8 615.7,860 617.9,858.5 620,846.7 621.9,848.4 623.8,857.9 625.6,855.9 627.5,862.5 629.6,863.7 631.7,854 633.8,856.2 635.6,854.4 637.3,863.9 639.1,857.4 640.8,868.4 642.6,865 644.7,864.5 646.7,856.1 648.8,856.7 650.5,856.4 652.1,846.1 653.8,843.6 655.7,849 657.6,858.7 659.5,855.2 661.4,847.9 663.4,849.8 665.4,859.9 667.4,856.2 669.4,866.8 671.4,866.7 677.7,816.6 681.4,866.2 682.9,855.2 684.4,839.1 686.4,877.5 688.3,873.6 690.1,857.5 692,857.7 693.9,847.9 695.8,851.7 697.7,861.2 699.6,857.8 701.5,844.2 703.6,840.1 705.6,848.6 707.7,845.4 709,868.7 711.1,867.8 713.1,854.8 715.2,851.7 716.9,857.8 718.5,867.5 720.4,868 722.2,860.7 724.1,864.1 725.9,855.8 727.8,856.7 729.6,857.1 731.5,865 733.2,867.3 734.9,854.3 736.6,856.7 738.3,854.1 740.1,863.8 741.8,856.3 743.6,866.9 745.3,863.7 747.8,854.2 749.6,850 751.3,858.4 753.1,852.1 754.8,859.3 756.6,855.4 758.5,856.3 760.4,866.7 762.3,867 764.1,857.2 766,861.9 767.9,855.4 770,855.8 772,868.7 774.1,870 775.8,870.9 777.5,858.6 779.2,857.9 781.7,875 783.5,874.9 785.3,860.9 787,862.5 788.8,849.3 790.6,851.7 792.4,844.2 794.5,850.7 796.6,870.9 798.7,878.8 800.2,867.8 801.7,852.9 803.4,856.4 805,868.2 806.7,871.2 808.4,868.6 810,858.9 811.7,856.7 813.6,867.8 815.5,883.8 817.5,880.7 819.5,865.8 821.5,868.2 823.5,852.6 825.5,850.4 827.4,857.2 829.3,872.5 831.4,870.6 833.4,854.2 835.5,851.7 837.2,856.1 838.9,868.4 840.6,872.5 842.3,871.7 843.9,863.8 845.6,864.2 847.5,867.8 849.3,880.8 851.4,873.1 853.5,857.2 855.6,850.4 857.4,852.3 859.1,863.3 860.9,857 862.6,868.1 864.4,870 866.3,869.5 868.1,860.8 870,867 871.9,855.6 873.7,859.8 875.6,853.7 877.5,857.1 879.4,865.7 881.4,867.6 883.4,858.8 885.4,860.1 887.4,853.4 889.4,852.9 891,849 892.7,853.1 894.6,850.7 896.5,835.3 898.4,834.8 900.3,825.3 902.5,832.1 904.7,848.7 908.1,813.1 909.9,781.7 912.5,737.7 913.1,700 916.9,600 917.3,560 918.1,440 921,400 931,590 933.2,635 936.3,700 939.4,750 943,800 945.5,825.7 950.5,845.5 952.7,844.7 954.9,834.7 956.8,836.5 958.7,852.8 960.6,855 962.8,843.2 965,822.7 966.5,832.4 968.1,850.6 970,844.8 971.9,826.3 973.8,818.4 975.7,835.5 978.2,822.1 979.8,835.5 981.3,853.1 983.8,838.5 985.4,844.3 987,858.1 988.9,854.9 990.7,839 992.6,835.3 994.2,842.5 995.8,856.8 997.9,859.2 999.9,851.1 1002,852.3 1003.7,848.7 1005.4,857.6 1007.1,854.3 1009,853.5 1010.9,843.4 1012.7,848.8 1014.6,841.6 1016.8,845.5 1019,853.1 1020.8,848.1 1022.5,832.7 1024.3,828.8 1026,813.2 1027.8,808.9 1029.3,816.2 1030.9,831.1 1033,825.9 1035.1,807.1 1037.2,801.6 1042.9,781.2 1046.2,756.5 1048.2,740 1051.2,694.8 1060.2,669.2 1070.1,721.3 1075.9,655.3 1078.3,605.9 1080.8,540 1081.8,436 1082.4,300 1085,40 1085.5,-60 1100,-60 1100.6,40 1101,300 1102.5,540 1106.3,688 1109.6,740 1112.1,772.9 1115.4,794.3 1123.6,799.2 1125.3,824.9 1127.3,823.7 1129.4,832 1131.5,827 1133.5,834 1135.3,831.5 1137.2,815.6 1139.1,817.7 1140.9,807.4 1143.1,809.9 1145.3,825.5 1147.5,829.1 1149.2,789.4 1150,776.9 1154.9,764.7 1158.2,740 1161.8,688 1166.7,436 1168.6,300 1170.7,40 1171.5,-60 1191,-60 1191.5,40 1196,436 1200,600 1204.3,720 1206.9,759.5 1211.9,789.2 1220.8,786.3 1221.2,799 1223.7,808.9 1229.6,824.7 1236.6,824.8 1237,840.5 1238.5,854.3 1240.5,849.1 1242.5,836.6 1244.2,841.5 1246,854.6 1247.7,855.7 1249.4,868.2 1251,867.4 1252.7,856.5 1254.3,858.4 1256.1,858.3 1257.9,867.8 1259.6,864.1 1261.4,875.7 1263.2,876.1 1265.4,870.2 1267.6,859.4 1269.5,862.9 1271.3,872.6 1273.2,872.1 1275.1,882 1277.1,883 1279,874.9 1281,881.2 1283,873.3 1285,875.9 1286.9,867.3 1288.9,870.2 1290.6,871.8 1292.2,882.5 1293.9,882 1295.7,881.3 1297.6,870.7 1299.4,873.2 1301.2,866.3 1303.4,869.8 1305.5,886 1307.7,890.9 1309.7,885.4 1311.6,872.9 1313.6,868.3 1315.3,868.6 1316.9,883.3 1318.6,884 1320.2,884.7 1321.9,873.5 1323.5,874.2 1325.2,878.3 1326.8,890.7 1328.5,895.8 1330,881.9 1331.4,860.4 1333.1,864.6 1334.7,877.6 1336.4,882 1338.3,878.6 1340.3,871.2 1342.1,871.1 1343.9,882.6 1345.8,877.3 1347.6,887.9 1349.4,883.3 1351.2,891.9 1353,892.1 1354.8,880.3 1356.7,883.1 1358.5,874.3 1360.3,877.1 1362.1,870.2 1364.1,872 1366,883.8 1368,881.4 1370,889.9 1371.7,887.7 1373.5,876.8 1375.2,880.6 1376.9,873.2 1378.9,873.1 1380.8,882.8 1382.8,880 1384.8,890.8 1386.8,886.2 1388.7,898.6 1390.7,897.8 1392.4,897.5 1394.2,888.6 1395.9,889.7 1397.6,884.1 1399.6,884.3 1401.6,893.9 1403.6,892.5 1405.5,881.5 1407.5,882.1 1409.2,881.8 1410.8,893.7 1412.5,893.9 1414.3,891.8 1416.1,881.1 1417.9,887.1 1419.7,874.1 1421.5,878.6 1423.3,870.2 1425.1,872.7 1426.9,888.5 1428.6,887.4 1430.4,900.4 1432.2,903.7 1434.2,898.2 1436.2,884.1 1438.2,882.9 1440.1,891.9 1441.8,890.1 1443.4,878.5 1445.1,878.2 1446.7,883.4 1448.4,896.4 1450,899.8 1451.8,899.8 1453.6,893 1455.5,898 1457.3,887.6 1459.1,891.5 1460.9,886.1 1462.9,886.3 1464.8,895.3 1466.8,894.9 1468.8,889.7 1470.7,874.3 1472.7,870.2 1474.7,883.5 1476.7,902.8 1484.6,893.9"/>
<path class="crv" stroke="#008080" style="stroke-width:9" d="M146.3 699.1 L150 663.2 L153.8 691.5 L157 659.4 L162.6 685.3 L171.3 670.7 L175.1 681.5 L180.1 663.2 L183.9 682.8 L186.4 656.9 L193.9 691.5 L200.2 695.3 L202.7 667 L206.4 696.6 L212.7 678.2 L218.2 675.7 L222.7 691.5 L232.7 666.5 L236.5 692.8 L241.5 656.9 L246.5 691.5 L250.3 677 L257.8 700.3 L260.3 679.5 L264.1 709.1 L269.1 680.7 L276.6 716.6 L284.1 680.7 L287.9 709.1 L294.1 664.5 L297.4 702.8 L304.2 682 L317.9 709.1 L321.7 689.5 L326.7 702.8 L333 689.5 L338 704.1 L340.5 693.3 L345.5 709.1 L353 687 L361.8 685.8 L366.8 696.6 L374.3 669.5 L378.1 705.3 L386.9 678.2 L394.4 658.2 L396.9 675.2 L401.9 658.2 L404.4 676.5 L409.4 654.4 L416.4 645.7 L419.4 696.6 L427 659.4 L430.7 686.5 L434.5 674.5 L437 696.6 L443.3 682 L447 702.8 L450.8 695.8 L457 722.9 L464.6 700.8 L478.3 739.2 L483.4 718.3 L487.1 732.9 L502.2 714.6 L510.9 712.1 L519.9 732.9 L523.5 737.8 L527.3 713.2 L533.5 741.6 L539.8 715.7 L545.6 751.6 L548.6 722 L553.6 745.3 L561.1 715.7 L568.6 752.8 L576.2 730.8 L583.7 752.8 L589.9 734.5 L603.7 746.6 L612.5 737 L623.8 729 L628.8 752.8 L633.8 737 L640.1 750.3 L645.8 730 L647.6 755.3 L656.4 744.6 L661.4 754.1 L665.1 742.5 L673.9 742 L682.7 767.4 L696.5 748.3 L702.7 756.6 L709 750.8 L717.8 767.4 L721.5 748.3 L731 745.1 L736.6 757.9 L746.1 744.6 L750.3 765.4 L755.3 750.8 L761.6 766.6 L771.6 758.3 L780.4 752.6 L786.7 770.4 L796.7 754.6 L808 771.6 L816.8 754.6 L820.5 772.9 L828.8 755.8 L831.8 774.1 L840.6 747.6 L844.3 776.7 L854.3 753.3 L858.1 769.1 L864.4 745.8 L868.1 772.9 L876.9 758.3 L880.7 760.4 L887.7 746.7 L894 737.9 L900.3 740.6 M953.7 713.4 L963.1 758.8 L973.1 716.6 L984.5 751.9 L992 734.2 L998.3 747.5 L1002.7 726.6 L1007.7 746.3 L1010.8 719.1 L1018.4 724.9 L1024 687.3 L1028.9 689.2 L1031.4 641.2 L1035.5 646.3 M1124.5 723.7 L1125.3 698 L1135.2 726.2 L1141.8 700.5 M1244.5 744.8 L1248.4 757.5 L1252.4 748.7 L1262.3 752.7 L1270.2 772.3 L1276.1 768.5 L1280 774.3 L1285.4 761.5 L1302.8 782.2 L1317.6 769.5 L1326.5 794.1 L1338.3 765.5 L1347.2 790.1 L1351.2 774.4 L1358.1 786.2 L1362.5 769.5 L1370 788.1 L1375.9 773.4 L1385.8 783.2 L1395.7 776.4 L1404.5 793.1 L1411.5 773.4 L1414.4 796 L1423.3 783.3 L1430.2 796 L1439.1 782.3 L1452 793.1 L1462.8 777.4 L1466.8 785.2 L1474.3 773.4 L1476.7 792.1"/>
<polyline class="crv" stroke="#008080" points="145,680.5 146.3,699.1 148.2,683.5 150,663.2 151.9,674.2 153.8,691.5 155.4,678.1 157,659.4 158.9,665.4 160.7,680.2 162.6,685.3 164.3,685.4 166.1,676.4 167.8,681.7 169.6,669.2 171.3,670.7 173.2,672.5 175.1,681.5 176.8,679.7 178.4,665.7 180.1,663.2 182,670.1 183.9,682.8 186.4,656.9 188.3,662.8 190.2,677.1 192,679.4 193.9,691.5 196,689.6 198.1,697.8 200.2,695.3 202.7,667 204.6,677.6 206.4,696.6 208.5,693.1 210.6,679.9 212.7,678.2 214.5,681 216.4,671.9 218.2,675.7 220.4,681.3 222.7,691.5 224.7,690.1 226.7,679.2 228.7,680.1 230.7,667.5 232.7,666.5 234.6,676.3 236.5,692.8 238.2,682.9 239.8,665.3 241.5,656.9 243.2,663.5 244.8,683.2 246.5,691.5 248.4,687.7 250.3,677 252.2,677.8 254.1,691.8 255.9,691.1 257.8,700.3 260.3,679.5 262.2,689.7 264.1,709.1 265.8,703.7 267.4,687.2 269.1,680.7 271,686.3 272.9,701.3 274.7,703.9 276.6,716.6 278.5,712.4 280.4,695.6 282.2,692.2 284.1,680.7 286,689.8 287.9,709.1 290,696.6 292,676.6 294.1,664.5 295.8,680 297.4,702.8 299.1,700.8 300.8,688.2 302.5,692.2 304.2,682 306.2,683.7 308.1,693 310.1,691.7 312,701.7 314,698.3 315.9,709.5 317.9,709.1 319.8,703.4 321.7,689.5 323.4,690.4 325,702.8 326.7,702.8 328.8,700.3 330.9,691.3 333,689.5 334.7,690.2 336.3,702.9 338,704.1 340.5,693.3 342.2,695.2 343.8,707.4 345.5,709.1 347.4,707.3 349.2,695.6 351.1,695.5 353,687 354.8,688.8 356.5,681.9 358.3,690.1 360,683.1 361.8,685.8 363.5,686.4 365.1,695.6 366.8,696.6 368.7,693.7 370.6,679.9 372.4,678.7 374.3,669.5 376.2,685.3 378.1,705.3 379.9,704.6 381.6,691 383.4,693.9 385.1,681.2 386.9,678.2 388.8,675.2 390.6,665.4 392.5,666.5 394.4,658.2 396.9,675.2 398.6,674.3 400.2,659.9 401.9,658.2 404.4,676.5 406.1,671 407.7,657.3 409.4,654.4 411.1,654.2 412.9,647.1 414.6,650.8 416.4,645.7 419.4,696.6 421.3,692.3 423.2,674.7 425.1,672.2 427,659.4 428.9,667.9 430.7,686.5 432.6,684.9 434.5,674.5 437,696.6 439.1,694.7 441.2,683.6 443.3,682 445.1,690.6 447,702.8 448.9,703.4 450.8,695.8 452.9,701.4 454.9,716.3 457,722.9 458.9,722.4 460.8,709.8 462.7,711.3 464.6,700.8 466.6,702.8 468.5,716 470.5,712.8 472.4,727.8 474.4,725.8 476.3,738.8 478.3,739.2 480,737.3 481.7,722.9 483.4,718.3 485.2,721.9 487.1,732.9 489,734.7 490.9,725 492.8,728.1 494.6,718.8 496.5,725.1 498.4,715.6 500.3,720.5 502.2,714.6 503.9,719.1 505.7,710.2 507.4,716.8 509.2,708.1 510.9,712.1 512.7,712.3 514.5,723.5 516.3,720.2 518.1,733.9 519.9,732.9 521.7,730.2 523.5,737.8 525.4,728.8 527.3,713.2 529.4,717.7 531.4,737.1 533.5,741.6 535.6,736.6 537.7,719.3 539.8,715.7 541.7,724.9 543.7,742.1 545.6,751.6 547.1,741 548.6,722 550.3,727.1 551.9,740.3 553.6,745.3 555.5,740.7 557.4,726 559.2,725.6 561.1,715.7 563,720.7 564.9,736.5 566.7,739.2 568.6,752.8 570.5,750.5 572.4,737.9 574.3,741.4 576.2,730.8 578.1,731.2 580,746.2 581.8,743.1 583.7,752.8 585.8,750.6 587.8,737 589.9,734.5 591.9,731.5 593.8,739.9 595.8,736.9 597.8,744.8 599.8,738.3 601.7,748.4 603.7,746.6 605.5,748.3 607.2,740.7 609,744.6 610.7,734.9 612.5,737 614.4,740 616.3,729.6 618.1,735.6 620,727.2 621.9,733 623.8,729 625.5,734.6 627.1,747.4 628.8,752.8 630.5,751.2 632.1,740.3 633.8,737 635.9,737.8 638,748.1 640.1,750.3 642,748.1 643.9,733 645.8,730 647.6,755.3 649.4,757.9 651.1,749.2 652.9,752 654.6,743.6 656.4,744.6 658.1,744.2 659.7,753.7 661.4,754.1 663.2,752.4 665.1,742.5 666.9,747.1 668.6,737.5 670.4,746.7 672.1,738.8 673.9,742 675.7,742.4 677.4,755.7 679.2,754.5 680.9,766.9 682.7,767.4 684.7,767.9 686.6,759.8 688.6,761.1 690.6,753.8 692.6,756 694.5,747.3 696.5,748.3 698.6,748.6 700.6,758.8 702.7,756.6 704.8,758 706.9,749 709,750.8 710.8,752.2 712.5,760 714.3,756 716,768 717.8,767.4 719.6,762.4 721.5,748.3 723.4,750.1 725.3,743.9 727.2,749 729.1,740.8 731,745.1 732.9,745.6 734.7,758.7 736.6,757.9 738.5,759.7 740.4,748.4 742.3,754.9 744.2,744 746.1,744.6 748.2,752.1 750.3,765.4 752,765.4 753.6,752 755.3,750.8 757.4,753.6 759.5,765.1 761.6,766.6 763.6,770 765.6,760.8 767.6,764.8 769.6,755.6 771.6,758.3 773.4,761.8 775.1,751.7 776.9,757.9 778.6,750.6 780.4,752.6 782.5,755.4 784.6,767 786.7,770.4 788.7,770.1 790.7,760.3 792.7,763.5 794.7,753 796.7,754.6 798.6,755.2 800.5,764.1 802.4,758.1 804.2,769.3 806.1,766.7 808,771.6 809.8,773 811.5,761.9 813.3,763.7 815,755.4 816.8,754.6 818.6,760 820.5,772.9 822.6,771.2 824.6,761.7 826.7,763.3 828.8,755.8 830.3,761.6 831.8,774.1 833.6,772.1 835.3,759 837.1,762.4 838.8,751 840.6,747.6 842.5,758.5 844.3,776.7 846.3,774 848.3,765.5 850.3,764.9 852.3,754.8 854.3,753.3 856.2,757.8 858.1,769.1 860.2,766.4 862.3,748.4 864.4,745.8 866.2,754.5 868.1,772.9 869.9,772.1 871.6,763.2 873.4,768.1 875.1,756.6 876.9,758.3 878.8,754.4 880.7,760.4 882.5,762.1 884.2,751.7 886,752 887.7,746.7 889.8,747.4 891.9,737.3 894,737.9 896.1,733.6 898.2,741.7 900.3,740.6 902,738 905,720 908,690 912.5,600 914.6,480 918.8,276 921.2,188.5 925.1,219 927.3,276 927.8,308 933,480 935.2,560 939.4,648 945,686 946.8,712.6 949.3,722.6 953.7,713.4 963.1,758.8 965.1,754.5 967.1,738.8 969.1,735.8 971.1,723.1 973.1,716.6 975,719.9 976.9,732 978.8,730.3 980.7,744.7 982.6,743.2 984.5,751.9 986.4,750.2 988.2,740.1 990.1,743.1 992,734.2 994.1,734.7 996.2,745.8 998.3,747.5 1000.5,740.6 1002.7,726.6 1004.4,730.5 1006,743 1007.7,746.3 1009.2,737.7 1010.8,719.1 1012.7,717 1014.6,724.5 1016.5,719.7 1018.4,724.9 1020.3,716.6 1022.1,696.7 1024,687.3 1025.6,683.2 1027.3,690.5 1028.9,689.2 1031.4,641.2 1033.5,639 1035.5,646.3 1040.5,589.4 1043.8,540 1049.5,438.8 1056.7,326.4 1061.9,389.4 1066.8,438.8 1068.5,488.2 1073.4,544 1078.7,436 1080,300 1082,40 1083,-60 1099.5,-60 1100,40 1101.4,300 1102,436 1103.4,540 1109.6,638.8 1116.2,688 1118.7,696.5 1124.5,723.7 1125.3,698 1127.3,700.7 1129.3,713.7 1131.2,712.5 1133.2,723.4 1135.2,726.2 1137.4,721.6 1139.6,704.5 1141.8,700.5 1145.9,684.9 1150.8,659.3 1153.3,638.8 1155.8,605.9 1158.2,572.9 1160.7,540 1164,436 1166.1,300 1168.8,40 1169.5,-60 1191.5,-60 1192.2,40 1194.7,300 1196.3,436 1199.7,540 1206,638.8 1208.9,671.8 1210.9,688 1220.8,691 1221.2,703.7 1225.7,707.7 1233.6,722.6 1234,729.4 1237.5,737.4 1238.5,745.7 1244.5,744.8 1246.5,747.8 1248.4,757.5 1250.4,757.7 1252.4,748.7 1254.4,746 1256.4,754.1 1258.3,747.5 1260.3,756.8 1262.3,752.7 1264.3,754 1266.2,767.2 1268.2,763.6 1270.2,772.3 1272.2,775.3 1274.1,767.4 1276.1,768.5 1278,769.4 1280,774.3 1281.8,772.3 1283.6,760.9 1285.4,761.5 1287.3,760.8 1289.3,770.3 1291.2,766 1293.1,774.2 1295.1,769.7 1297,778.2 1298.9,773.8 1300.9,781.7 1302.8,782.2 1304.6,783.3 1306.5,776.8 1308.3,780.7 1310.2,770.7 1312,776.7 1313.9,767.8 1315.8,774.5 1317.6,769.5 1319.4,770.2 1321.2,781.2 1322.9,782.2 1324.7,793.7 1326.5,794.1 1328.5,792.7 1330.4,780.4 1332.4,784.5 1334.4,772.5 1336.3,774.6 1338.3,765.5 1340.1,765.2 1341.9,777.8 1343.6,778.4 1345.4,789.6 1347.2,790.1 1349.2,787.3 1351.2,774.4 1352.9,775.4 1354.7,782.3 1356.4,779.5 1358.1,786.2 1360.3,781.6 1362.5,769.5 1364.4,772.1 1366.2,782.8 1368.1,780.6 1370,788.1 1372,786.5 1373.9,773.5 1375.9,773.4 1377.9,771.2 1379.9,782.4 1381.8,775.4 1383.8,784.7 1385.8,783.2 1387.8,784.6 1389.8,775.4 1391.7,783.3 1393.7,773 1395.7,776.4 1397.5,777.4 1399.2,787.2 1401,781.4 1402.7,792.7 1404.5,793.1 1406.2,790 1408,779.7 1409.8,780.5 1411.5,773.4 1413,782.2 1414.4,796 1416.2,796.5 1418,787.6 1419.7,793 1421.5,781.5 1423.3,783.3 1425,782.2 1426.8,792.6 1428.5,788.6 1430.2,796 1432,797.2 1433.8,785.7 1435.5,791.9 1437.3,782 1439.1,782.3 1440.9,781.9 1442.8,789.6 1444.6,783 1446.5,791.2 1448.3,787.9 1450.2,793.8 1452,793.1 1453.8,794.3 1455.6,785.7 1457.4,788.4 1459.2,777.7 1461,783.8 1462.8,777.4 1464.8,779.5 1466.8,785.2 1468.7,786.9 1470.5,774.1 1472.4,781 1474.3,773.4 1476.7,792.1 1484.6,781.3"/>
<path class="crv" stroke="#ff00ff" style="stroke-width:9" d="M145.5 520.3 L152.5 577.5 L158 548.7 L165.1 565 L170.1 550.4 L177.1 572.5 L180.1 549.7 L186.4 568.7 L187.6 554.2 L192.6 578.3 L200.9 543.6 L212.7 581.3 L217.7 569.2 L222.2 578.8 L226.5 564.2 L231.5 572.5 L235.7 558.7 L241.5 576.3 L247.3 554.7 L253.3 592.5 L259.8 568 L264.1 590 L270.3 574.2 L274.1 583.8 L279.1 551.2 L287.4 604.3 L290.4 559.2 L296.6 598.8 L297.9 568 L306.7 600.1 L312.4 568 L319.2 586.3 L322.5 566.7 L326 593.8 L333.5 558.4 L338 583.8 L340.5 571.7 L345 592.5 L360.6 547.9 L366.8 571.2 L373.1 557.9 L375.6 583.3 L388.1 532.9 L395.6 554.9 L398.1 531.6 L403.2 551.2 L405.7 510.3 L410.2 551.2 L416.4 503.5 L425.7 557.5 L433.2 544.2 L435.7 571.2 L442 556.7 L447 575 L450.8 569.2 L454.5 588.8 L458.3 581.7 L464.6 603.8 L472.8 590.5 L485.9 616.9 L495.9 595.5 L505.9 616.4 L510.9 604.3 L519.9 626.4 L523.5 632.5 L527.3 605.5 L531 613.7 L538.6 603.7 L543.1 630 L547.3 621.7 L551.1 631.3 L554.3 588.7 L557.4 645.8 L560.6 614.2 L563.6 633.8 L567.4 610.5 L574.9 642.6 L582.4 619.2 L586.2 633.8 L593.7 617.2 L605 640.1 L613.2 614.7 L618.8 637.6 L625 626.8 L630 638.8 L636.3 629.3 L640.1 640.1 L655.1 621.7 L660.1 641.3 L663.9 626.8 L671.4 651.3 L676.4 641.8 L678.4 651.3 L688.9 623 L692.7 646.3 L700.2 631.8 L705.2 654.3 L716.5 644.3 L721.5 639.3 L726.5 646.3 L731 633 L737.1 657.6 L746.6 640.5 L752.8 648.8 L756.6 641.8 L762.9 653.8 L766.6 634.3 L776.7 643.8 L784.2 644.3 L788.7 658.4 L794.9 623.7 L808 661.9 L814.2 646.8 L818 651.3 L822.3 644.3 L826.8 657.6 L834.3 644.3 L842.3 664.4 L851.8 640.5 L859.4 662.6 L866.4 629.3 L875.6 655.1 L884.4 631.8 L889.4 642.6 L892.1 645.8 L896.5 626.8 L899 630.1 L902.8 605.5 M946.8 639.6 L953 616.1 L954.9 653.4 L960.6 624.3 L963.1 637.7 L970.4 610.2 L971.3 643.3 L976.9 626.8 L981.9 639.6 L986.3 628.7 L988.9 638.3 L997 617.4 L1000.2 622.6 L1005.6 603 L1012.1 614.4 L1015.9 573.4 L1022.2 583.6 M1123.6 610.1 L1127.8 581.9 L1131.9 590.3 L1135.2 584.3 L1143.4 597.8 L1146.7 573.6 M1212.3 605.9 L1217.8 596.7 L1224.7 601.1 L1225.1 639.5 L1234.6 625.8 L1236.6 642.5 L1243.5 629.7 L1250.4 655.3 L1258.3 639.6 L1262.3 661.3 L1277.1 646.1 L1285 662.2 L1289.9 660.4 L1294.9 668.2 L1298.8 657.4 L1304.7 668.2 L1315.6 651.5 L1318.6 667.2 L1329.4 657.4 L1331.4 673.1 L1339.3 663.3 L1343.3 684 L1350.2 656.4 L1357.1 688.9 L1360.5 654.8 L1370.9 689.9 L1388.7 658.4 L1392.7 679 L1401.6 669.3 L1410.5 680 L1415 659.4 L1431.2 682 L1438.1 664.3 L1447 662.3 L1454.9 674.1 L1461.9 669.3 L1472.7 690.9 L1480.6 669.3"/>
<polyline class="crv" stroke="#ff00ff" points="145.5,520.3 152.5,577.5 154.3,569.8 156.2,555.8 158,548.7 159.8,547.6 161.6,561.1 163.3,558.8 165.1,565 166.8,565.1 168.4,552.3 170.1,550.4 171.8,552 173.6,565.8 175.3,563.6 177.1,572.5 178.6,563.7 180.1,549.7 182.2,552 184.3,567 186.4,568.7 187.6,554.2 189.3,557.8 190.9,575.1 192.6,578.3 194.7,572.5 196.8,557.6 198.8,555.4 200.9,543.6 202.9,545.3 204.8,560.6 206.8,558.3 208.8,573.7 210.7,570.3 212.7,581.3 214.4,581.4 216,570.4 217.7,569.2 219.9,571.5 222.2,578.8 224.3,574.2 226.5,564.2 228.2,562 229.8,572.7 231.5,572.5 233.6,570.8 235.7,558.7 237.6,561.5 239.6,573 241.5,576.3 243.4,574 245.4,558.1 247.3,554.7 249.3,565.3 251.3,583.6 253.3,592.5 255.5,587.4 257.6,572.6 259.8,568 262,575.1 264.1,590 266.2,586.8 268.2,576.8 270.3,574.2 272.2,576.1 274.1,583.8 275.8,578 277.4,558.4 279.1,551.2 287.4,604.3 290.4,559.2 292.5,569.7 294.5,588.1 296.6,598.8 297.9,568 299.7,570.5 301.4,585.2 303.2,584.4 304.9,596.6 306.7,600.1 308.6,593.9 310.5,574.7 312.4,568 314.1,570 315.8,581.1 317.5,578.7 319.2,586.3 320.9,578.5 322.5,566.7 324.2,578.2 326,593.8 327.9,589.8 329.8,572.4 331.6,572 333.5,558.4 335.8,566.2 338,583.8 340.5,571.7 342.8,577.2 345,592.5 346.9,590.9 348.9,576.4 350.9,578.1 352.8,565.5 354.8,568.8 356.7,554.6 358.7,556.3 360.6,547.9 362.7,551.1 364.7,566 366.8,571.2 368.9,570.7 371,557.7 373.1,557.9 375.6,583.3 388.1,532.9 390,533.4 391.9,546.4 393.7,544.4 395.6,554.9 398.1,531.6 399.8,535.9 401.5,547.6 403.2,551.2 405.7,510.3 407.9,528.2 410.2,551.2 416.4,503.5 425.7,557.5 427.6,558.9 429.4,545.8 431.3,549.9 433.2,544.2 435.7,571.2 437.8,571.4 439.9,557.3 442,556.7 443.7,560.9 445.3,573.9 447,575 448.9,575.4 450.8,569.2 452.6,575.8 454.5,588.8 456.4,587.3 458.3,581.7 460.4,586.3 462.5,599.9 464.6,603.8 466.7,602.8 468.7,594.2 470.8,598.8 472.8,590.5 474.7,590.4 476.5,602.2 478.4,596.8 480.3,607.7 482.2,605.8 484,615.7 485.9,616.9 487.9,614.5 489.9,605.7 491.9,606.5 493.9,597.4 495.9,595.5 497.9,596.5 499.9,608.4 501.9,604.8 503.9,615.3 505.9,616.4 507.6,615 509.2,604.5 510.9,604.3 512.7,604.3 514.5,615 516.3,614.1 518.1,625.2 519.9,626.4 521.7,627.1 523.5,632.5 525.4,623.6 527.3,605.5 529.1,605.7 531,613.7 532.9,613.8 534.8,605.8 536.7,609.3 538.6,603.7 540.9,612.5 543.1,630 545.2,628.3 547.3,621.7 549.2,622.2 551.1,631.3 552.7,614.2 554.3,588.7 557.4,645.8 559,633.7 560.6,614.2 562.1,620.9 563.6,633.8 565.5,626.9 567.4,610.5 569.3,613.8 571.1,630.3 573,630.5 574.9,642.6 576.8,639.1 578.6,628.8 580.5,627.5 582.4,619.2 584.3,624.3 586.2,633.8 588.1,634.3 590,620.7 591.8,624.3 593.7,617.2 595.6,618 597.5,627.7 599.4,626.4 601.2,635.3 603.1,632.1 605,640.1 607,636.8 609.1,625.5 611.2,624.8 613.2,614.7 615.1,618.7 616.9,633.3 618.8,637.6 620.9,637.8 622.9,626.8 625,626.8 626.7,626.4 628.3,638.2 630,638.8 632.1,637.5 634.2,630.3 636.3,629.3 638.2,631.2 640.1,640.1 642,642.5 643.9,633.1 645.7,635.3 647.6,626.9 649.5,631.9 651.4,621.8 653.2,628.5 655.1,621.7 656.8,623.4 658.4,639.8 660.1,641.3 662,636.8 663.9,626.8 665.8,629.7 667.6,641.4 669.5,641.9 671.4,651.3 673.1,652.4 674.7,640 676.4,641.8 678.4,651.3 680.1,651.6 681.9,639.7 683.6,639.8 685.4,629.8 687.1,629.7 688.9,623 690.8,629.9 692.7,646.3 694.6,645.2 696.5,634 698.3,637.7 700.2,631.8 701.9,635.4 703.5,650.7 705.2,654.3 707.1,655.9 709,647.8 710.9,654.4 712.7,645.7 714.6,647.9 716.5,644.3 718.2,646.5 719.8,636.6 721.5,639.3 723.2,636.5 724.8,646.2 726.5,646.3 728.8,643.8 731,633 733,639 735.1,653.9 737.1,657.6 739,657.6 740.9,648.9 742.8,650.6 744.7,641.7 746.6,640.5 748.7,641.1 750.7,650.1 752.8,648.8 754.7,647.2 756.6,641.8 758.7,643.5 760.8,652 762.9,653.8 764.8,647.2 766.6,634.3 768.6,633 770.6,642.6 772.7,637.5 774.7,644.9 776.7,643.8 778.6,640.8 780.5,647 782.3,640.3 784.2,644.3 786.5,648.9 788.7,658.4 790.8,649.9 792.8,631.1 794.9,623.7 796.8,625 798.6,636.9 800.5,635 802.4,650.3 804.3,646.4 806.1,659.1 808,661.9 810.1,659.1 812.1,649 814.2,646.8 816.1,646.4 818,651.3 820.1,649.9 822.3,644.3 824.5,646.4 826.8,657.6 828.7,656.9 830.5,648.5 832.4,652.2 834.3,644.3 836.3,645.5 838.3,657.9 840.3,654.5 842.3,664.4 844.2,663.4 846.1,652.6 848,654.4 849.9,640.8 851.8,640.5 853.7,644.1 855.6,655.2 857.5,655 859.4,662.6 861.1,657.6 862.9,643.1 864.6,639.5 866.4,629.3 868.2,630.5 870.1,644.2 871.9,641.1 873.8,653.5 875.6,655.1 877.4,654.4 879.1,642.9 880.9,645.9 882.6,634.4 884.4,631.8 886.1,631 887.7,641.8 889.4,642.6 892.1,645.8 894.3,640.5 896.5,626.8 899,630.1 900.9,622 902.8,605.5 906,604 909.4,600 911.2,560 912.5,540 914.5,480 915.3,440 916.3,419 920,341.5 924.3,419 925.5,440 926.3,480 929.8,560 932,600 934,598 938.6,620.3 946.8,639.6 948.9,633.7 950.9,619.7 953,616.1 954.9,653.4 956.8,646.8 958.7,631.3 960.6,624.3 963.1,637.7 964.9,633.6 966.8,619.4 968.6,619.8 970.4,610.2 971.3,643.3 973.2,640 975,629.8 976.9,626.8 978.6,626.4 980.2,640.5 981.9,639.6 984.1,636.2 986.3,628.7 988.9,638.3 990.9,635.7 993,624.2 995,624.9 997,617.4 998.6,617.4 1000.2,622.6 1002,619.4 1003.8,604.9 1005.6,603 1007.8,604.9 1009.9,614.7 1012.1,614.4 1014,598.1 1015.9,573.4 1018,573.2 1020.1,584.3 1022.2,583.6 1026,560 1029.4,540 1030,520 1033,505 1035.5,470 1038.8,448 1045.4,360 1051.8,222 1054,165 1056.7,92.2 1060.2,132 1062.6,222 1066.6,300 1068.4,349 1073.2,419.8 1076,360 1078.4,300 1082.8,40 1083.5,-60 1099,-60 1099.6,40 1102.5,300 1103.5,436 1106.3,488 1109.5,529 1111.3,540 1114.6,564.7 1123.6,610.1 1125.7,600.1 1127.8,581.9 1129.8,584.1 1131.9,590.3 1133.6,591.8 1135.2,584.3 1137.2,583.4 1139.3,592.9 1141.4,590.2 1143.4,597.8 1145.1,589 1146.7,573.6 1150,556.5 1153,540 1155,537 1159,488 1162,436 1165.1,300 1168.2,40 1169,-60 1193,-60 1193.8,40 1196.9,300 1198.9,436 1202.6,505 1204.5,536 1208.9,559.5 1212.3,605.9 1214.1,605 1216,596.7 1217.8,596.7 1219.5,594.5 1221.2,602.7 1223,595.1 1224.7,601.1 1225.1,639.5 1227,640.9 1228.9,628.9 1230.8,633.6 1232.7,623.6 1234.6,625.8 1236.6,642.5 1238.3,643.5 1240,632.2 1241.8,636.9 1243.5,629.7 1245.2,631.9 1247,645.1 1248.7,645.7 1250.4,655.3 1252.4,655.7 1254.3,644.5 1256.3,647.6 1258.3,639.6 1260.3,645.5 1262.3,661.3 1264.1,663 1266,655.6 1267.8,657.4 1269.7,651.5 1271.5,655 1273.4,646 1275.2,651.1 1277.1,646.1 1279.1,645.8 1281,656.8 1283,653.1 1285,662.2 1286.6,665.6 1288.3,657 1289.9,660.4 1291.6,659.5 1293.2,670.3 1294.9,668.2 1296.8,666.4 1298.8,657.4 1300.8,658.4 1302.7,668.8 1304.7,668.2 1306.5,669.8 1308.3,660.2 1310.2,663 1312,652.8 1313.8,657.2 1315.6,651.5 1317.1,656.3 1318.6,667.2 1320.4,667.7 1322.2,658.9 1324,665.1 1325.8,655.9 1327.6,662.7 1329.4,657.4 1331.4,673.1 1333.4,674.9 1335.3,663.7 1337.3,668.3 1339.3,663.3 1341.3,670.3 1343.3,684 1345,680.7 1346.8,668 1348.5,666 1350.2,656.4 1351.9,661.4 1353.7,677.7 1355.4,676.6 1357.1,688.9 1358.8,676.7 1360.5,654.8 1362.6,660 1364.7,673.4 1366.7,673.8 1368.8,687.9 1370.9,689.9 1372.9,689 1374.9,678.9 1376.8,681.8 1378.8,671.9 1380.8,677.3 1382.8,666.2 1384.7,670.5 1386.7,657.6 1388.7,658.4 1390.7,664.5 1392.7,679 1394.5,680.7 1396.3,671.8 1398,678.3 1399.8,669.4 1401.6,669.3 1403.4,667.3 1405.2,676.1 1406.9,670.9 1408.7,680.2 1410.5,680 1412.8,672.9 1415,659.4 1416.8,659.6 1418.6,669 1420.4,664.1 1422.2,672.5 1424,667.3 1425.8,678.7 1427.6,672.6 1429.4,682.7 1431.2,682 1432.9,681.4 1434.7,668.8 1436.4,673.5 1438.1,664.3 1439.9,667.7 1441.7,661.1 1443.4,666.4 1445.2,659.9 1447,662.3 1449,660.5 1451,673.2 1452.9,666.7 1454.9,674.1 1456.7,676.4 1458.4,668.9 1460.2,675.6 1461.9,669.3 1463.7,670.5 1465.5,680.2 1467.3,676.8 1469.1,686.1 1470.9,682.2 1472.7,690.9 1474.7,689.2 1476.7,677.4 1478.6,678.6 1480.6,669.3 1484.6,678.1"/>
</g>
<line x1="147.3" y1="60.1" x2="259.8" y2="60.1" stroke="#ff00ff" stroke-width="7.6" stroke-linecap="round"/>
<text transform="translate(273.8 76.4) scale(0.995 1.035)" font-size="38.5" text-anchor="start">Ti@GAHD@TiO<tspan font-size="25" dy="11.5">2</tspan><tspan dy="-11.5">-36h</tspan></text>
<line x1="150.1" y1="105.7" x2="262.4" y2="105.7" stroke="#008080" stroke-width="7.6" stroke-linecap="round"/>
<text transform="translate(276.1 121.5) scale(0.995 1.035)" font-size="38.5" text-anchor="start">Ti@GAHD@TiO<tspan font-size="25" dy="11.5">2</tspan><tspan dy="-11.5">-24h</tspan></text>
<line x1="150.6" y1="154.1" x2="262.4" y2="154.1" stroke="#0000ff" stroke-width="7.6" stroke-linecap="round"/>
<text transform="translate(276.1 171) scale(0.995 1.035)" font-size="38.5" text-anchor="start">Ti@GAHD@TiO<tspan font-size="25" dy="11.5">2</tspan><tspan dy="-11.5">-12h</tspan></text>
<line x1="152.6" y1="199.9" x2="264.2" y2="199.9" stroke="#ff0000" stroke-width="7.6" stroke-linecap="round"/>
<text transform="translate(278.3 215.6) scale(0.995 1.035)" font-size="38.5" text-anchor="start">Ti@TiO<tspan font-size="25" dy="11.5">2</tspan><tspan dy="-11.5">-12h</tspan></text>
<line x1="152.6" y1="241" x2="263.6" y2="241" stroke="#000000" stroke-width="7.6" stroke-linecap="round"/>
<text transform="translate(278 256.6) scale(0.995 1.035)" font-size="38.5" text-anchor="start">Ti</text>
<text transform="translate(195.2 333.4) scale(1.017 1.05)" font-size="45" text-anchor="start">:</text>
<text transform="translate(222.4 333.4) scale(1.017 1.05)" font-size="45" text-anchor="start">Anatase</text>
<text transform="translate(195.2 418.7) scale(1.017 1.05)" font-size="45" text-anchor="start">:</text>
<text transform="translate(224.3 418.7) scale(1.017 1.05)" font-size="45" text-anchor="start">Ti</text>
<text transform="translate(175.2 364.88)" font-size="90" text-anchor="middle">*</text>
<path d="M170.8 390.55 L185 409.3 L170.8 428.05 L156.6 409.3 Z" fill="#000"/>
<text transform="translate(410.3 515.357)" font-size="78.4" text-anchor="middle">*</text>
<text transform="translate(467.2 452) rotate(-90) scale(1.045 1.04)" font-size="47.5" text-anchor="middle">(101)</text>
<text transform="translate(1023 111.5) rotate(-90) scale(1.045 1.04)" font-size="47.5" text-anchor="middle">(004)</text>
<text transform="translate(1055.7 103.257)" font-size="78.4" text-anchor="middle">*</text>
<path d="M927.4 146.05 L941.6 163.8 L927.4 181.55 L913.2 163.8 Z" fill="#000"/>
<path d="M1119.8 55.65 L1134 73.4 L1119.8 91.15 L1105.6 73.4 Z" fill="#000"/>
<path d="M1210.6 79.05 L1224.8 96.8 L1210.6 114.55 L1196.4 96.8 Z" fill="#000"/>
<path d="M967 566.5 L980.4 583.4 L967 600.3 L953.6 583.4 Z" fill="#000"/>
</svg>
</body></html>
